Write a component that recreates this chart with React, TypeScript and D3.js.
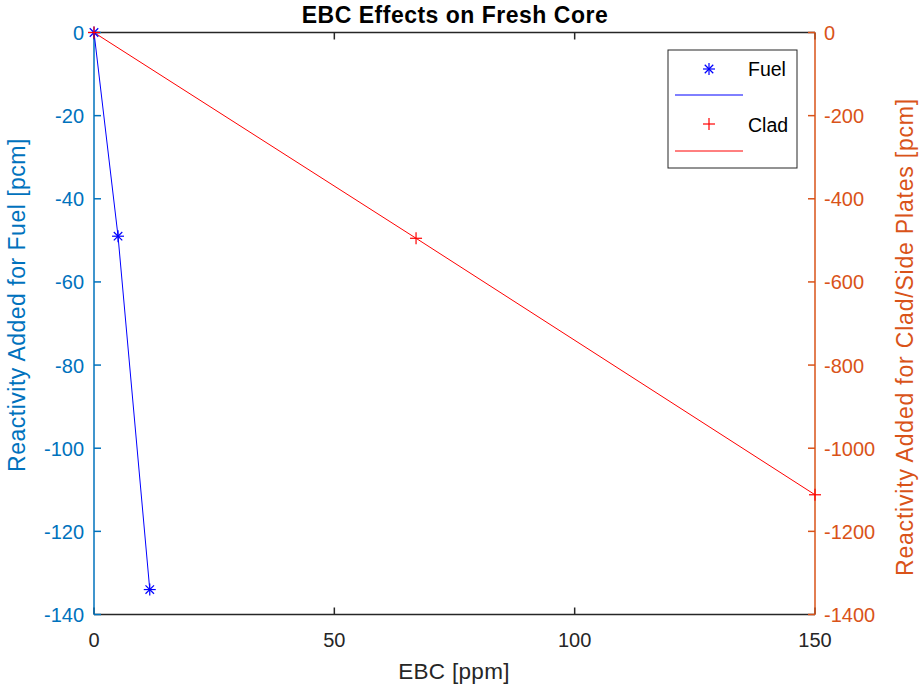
import React from "react";
import * as d3 from "d3";

const fuelX = [0, 5, 11.6];
const fuelY = [0, -49, -134];
const cladX = [0, 67, 150];
const cladY = [0, -495, -1112];
const xTicks = [0, 50, 100, 150];
const leftTicks = [0, -20, -40, -60, -80, -100, -120, -140];
const rightTicks = [0, -200, -400, -600, -800, -1000, -1200, -1400];

const W = 920, H = 687;
const L = 94, R = 815, T = 32.5, B = 614.5;
const blueAxis = "#0072BD";
const orangeAxis = "#D95319";
const font = "'Liberation Sans', Arial, Helvetica, sans-serif";

function Star({ x, y, c, s = 6 }: { x: number; y: number; c: string; s?: number }) {
  const d = s * 0.707;
  return (
    <g stroke={c} strokeWidth={1.2}>
      <line x1={x - s} y1={y} x2={x + s} y2={y} />
      <line x1={x} y1={y - s} x2={x} y2={y + s} />
      <line x1={x - d} y1={y - d} x2={x + d} y2={y + d} />
      <line x1={x - d} y1={y + d} x2={x + d} y2={y - d} />
    </g>
  );
}
function Plus({ x, y, c, s = 6 }: { x: number; y: number; c: string; s?: number }) {
  return (
    <g stroke={c} strokeWidth={1.2}>
      <line x1={x - s} y1={y} x2={x + s} y2={y} />
      <line x1={x} y1={y - s} x2={x} y2={y + s} />
    </g>
  );
}

export default function App() {
  const x = d3.scaleLinear().domain([0, 150]).range([L, R]);
  const yl = d3.scaleLinear().domain([-140, 0]).range([B, T]);
  const yr = d3.scaleLinear().domain([-1400, 0]).range([B, T]);
  const fuelLine = d3.line<number>().x((_, i) => x(fuelX[i])).y((d) => yl(d))(fuelY) || "";
  const cladLine = d3.line<number>().x((_, i) => x(cladX[i])).y((d) => yr(d))(cladY) || "";
  const tk = 7;
  const fs = 20;
  return (
    <svg width={W} height={H} style={{ position: "absolute", left: 0, top: 0, background: "#fff" }} fontFamily={font}>
      <rect width={W} height={H} fill="#fff" />
      {/* top/bottom axes */}
      <line x1={L} y1={T} x2={R} y2={T} stroke="#262626" strokeWidth={1.5} />
      <line x1={L} y1={B} x2={R} y2={B} stroke="#262626" strokeWidth={1.5} />
      {xTicks.map((t) => (
        <g key={t}>
          <line x1={x(t)} y1={B} x2={x(t)} y2={B - tk} stroke="#262626" strokeWidth={1.5} />
          <line x1={x(t)} y1={T} x2={x(t)} y2={T + tk} stroke="#262626" strokeWidth={1.5} />
          <text x={x(t)} y={647} textAnchor="middle" fontSize={fs} fill="#262626">{t}</text>
        </g>
      ))}
      {/* left axis */}
      <line x1={L} y1={T} x2={L} y2={B} stroke={blueAxis} strokeWidth={1.5} />
      {leftTicks.map((t) => (
        <g key={t}>
          <line x1={L} y1={yl(t)} x2={L + tk} y2={yl(t)} stroke={blueAxis} strokeWidth={1.5} />
          <text x={84} y={yl(t) + 7.5} textAnchor="end" fontSize={fs} fill={blueAxis}>{t}</text>
        </g>
      ))}
      {/* right axis */}
      <line x1={R} y1={T} x2={R} y2={B} stroke={orangeAxis} strokeWidth={1.5} />
      {rightTicks.map((t) => (
        <g key={t}>
          <line x1={R} y1={yr(t)} x2={R - tk} y2={yr(t)} stroke={orangeAxis} strokeWidth={1.5} />
          <text x={824} y={yr(t) + 7.5} textAnchor="start" fontSize={fs} fill={orangeAxis}>{t}</text>
        </g>
      ))}
      {/* labels */}
      <text x={455} y={23} textAnchor="middle" fontSize={23} letterSpacing={0.5} fontWeight="bold" fill="#000">EBC Effects on Fresh Core</text>
      <text x={454} y={679} textAnchor="middle" fontSize={22.5} letterSpacing={0.3} fill="#262626">EBC [ppm]</text>
      <text transform={`translate(25,305) rotate(-90)`} textAnchor="middle" fontSize={23} letterSpacing={0.5} fill={blueAxis}>Reactivity Added for Fuel [pcm]</text>
      <text transform={`translate(913,337) rotate(-90)`} textAnchor="middle" fontSize={23} letterSpacing={0.8} fill={orangeAxis}>Reactivity Added for Clad/Side Plates [pcm]</text>
      {/* data */}
      <path d={cladLine} fill="none" stroke="#FF0000" strokeWidth={1} />
      <path d={fuelLine} fill="none" stroke="#0000FF" strokeWidth={1} />
      {fuelY.map((v, i) => <Star key={"f" + i} x={x(fuelX[i])} y={yl(v)} c="#0000FF" />)}
      {cladY.map((v, i) => <Plus key={"c" + i} x={x(cladX[i])} y={yr(v)} c="#FF0000" />)}
      {/* legend */}
      <rect x={668} y={50} width={129} height={118} fill="#fff" stroke="#262626" strokeWidth={1} />
      <Star x={709} y={69} c="#0000FF" />
      <text x={748} y={76} fontSize={19.5} fill="#000">Fuel</text>
      <line x1={675} y1={95} x2={743} y2={95} stroke="#0000FF" strokeWidth={1} />
      <Plus x={709} y={124} c="#FF0000" />
      <text x={748} y={132} fontSize={19.5} fill="#000">Clad</text>
      <line x1={675} y1={151} x2={743} y2={151} stroke="#FF0000" strokeWidth={1} />
    </svg>
  );
}
